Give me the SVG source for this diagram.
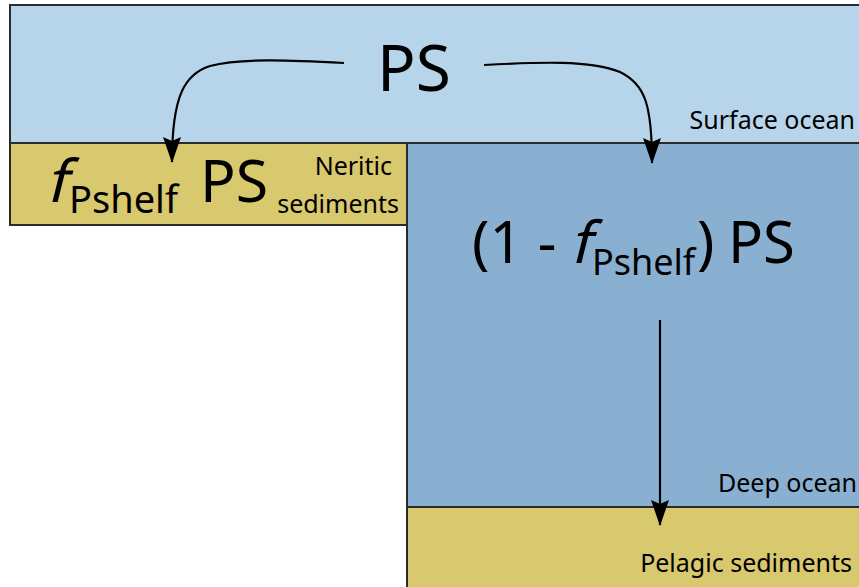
<svg xmlns="http://www.w3.org/2000/svg" width="859" height="587" viewBox="0 0 859 587">
<style>
.box{stroke:#2b2b2b;stroke-width:2}
.surf{fill:#b7d5ea}
.deep{fill:#8ab0d1}
.sed{fill:#d8c86e}
text{font-family:"Noto Sans","Open Sans","DejaVu Sans",sans-serif;fill:#000}
.lbl{font-size:25px;text-anchor:end}
.conn{fill:none;stroke:#000;stroke-width:2.2}
</style>
<defs>
<marker id="ah" viewBox="0 0 26 20" refX="25" refY="10" markerWidth="26" markerHeight="20" markerUnits="userSpaceOnUse" orient="auto">
<path d="M0,1 L26,10 L0,19 L4,10 z" fill="#000"/>
</marker>
</defs>
<g id="surface-ocean">
<rect class="box surf" x="10" y="5" width="860" height="138"/>
<text class="lbl" x="855" y="129">Surface ocean</text>
<text x="377" y="91" font-size="64">PS</text>
</g>
<g id="neritic-sediments">
<rect class="box sed" x="10" y="143" width="397" height="82"/>
<text class="lbl" x="392" y="175">Neritic</text>
<text class="lbl" x="399" y="213">sediments</text>
<text transform="translate(46,202) skewX(-14)" font-size="59">f</text>
<text x="69" y="213" font-size="38">Pshelf</text>
<text x="200" y="202" font-size="59">PS</text>
</g>
<g id="deep-ocean">
<rect class="box deep" x="407" y="143" width="460" height="364"/>
<text class="lbl" x="857" y="492">Deep ocean</text>
<text x="472" y="263" font-size="58" xml:space="preserve">(1 -</text>
<text transform="translate(570,263) skewX(-14)" font-size="58">f</text>
<text x="592" y="275" font-size="36">Pshelf</text>
<text x="697" y="263" font-size="58">)</text>
<text x="728" y="263" font-size="58">PS</text>
</g>
<g id="pelagic-sediments">
<rect class="box sed" x="407" y="507" width="460" height="90"/>
<text class="lbl" x="852" y="572">Pelagic sediments</text>
</g>
<g id="connectors">
<path class="conn" d="M344,63 C290,60 240,58 210,66 C185,74 172,95 172,162" marker-end="url(#ah)"/>
<path class="conn" d="M484,65 C540,62 590,60 620,72 C645,84 652,105 652,163" marker-end="url(#ah)"/>
<path class="conn" d="M660,320 L660,525" marker-end="url(#ah)"/>
</g>
</svg>
